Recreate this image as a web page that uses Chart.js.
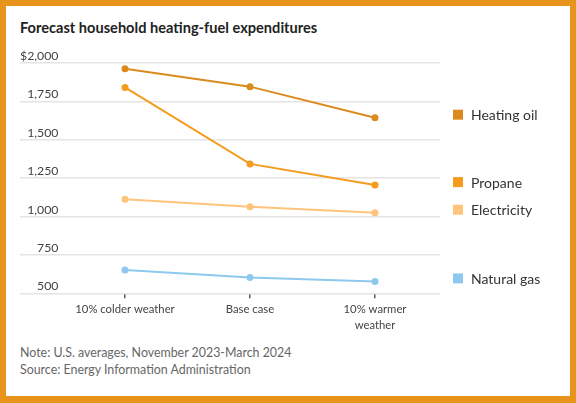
<!DOCTYPE html>
<html>
<head>
<meta charset="utf-8">
<script src="https://cdn.jsdelivr.net/npm/chart.js@4"></script>
<style>
  html, body { margin: 0; padding: 0; }
  body { width: 576px; height: 403px; background: #E8931C; position: relative; overflow: hidden; }
  #card { position: absolute; left: 6px; top: 6px; width: 564px; height: 390px; background: #fff; }
  #title { position: absolute; left: 14px; top: 13px; font: bold 14.6px Lato, sans-serif; color: #222; }
  #chartBox { position: absolute; left: 0; top: 34px; width: 564px; height: 300px; }
  #notes { position: absolute; left: 14px; top: 338px; font: 12.4px Lato, sans-serif; color: #666; line-height: 17px; }
</style>
</head>
<body>
<div id="card">
  <div id="title">Forecast household heating-fuel expenditures</div>
  <div id="chartBox"><canvas id="chart"></canvas></div>
  <div id="notes">Note: U.S. averages, November 2023-March 2024<br>Source: Energy Information Administration</div>
</div>
<script>
// categorias del eje x
const categorias = ['10% colder weather', 'Base case', ['10% warmer', 'weather']];

// valores por combustible (dolares)
const heatingOil = [1963, 1846, 1644];
const propane = [1841, 1343, 1205];
const electricity = [1113, 1064, 1025];
const naturalGas = [652, 604, 578];

// marcas del eje y
const yTicks = [500, 750, 1000, 1250, 1500, 1750, 2000];

const series = [
    { label: 'Heating oil', data: heatingOil, color: '#DB8B1E' },
    { label: 'Propane', data: propane, color: '#F59B1E' },
    { label: 'Electricity', data: electricity, color: '#FFC47C' },
    { label: 'Natural gas', data: naturalGas, color: '#8DC9EE' }
];

// leyenda al final de cada linea
const endLabels = {
    id: 'endLabels',
    afterDraw(chart) {
        const ctx = chart.ctx;
        const yScale = chart.scales.y;
        const right = chart.chartArea.right;
        ctx.save();
        ctx.font = '14px Lato, sans-serif';
        ctx.textBaseline = 'middle';
        chart.data.datasets.forEach(ds => {
            const last = ds.data[ds.data.length - 1].y;
            const y = yScale.getPixelForValue(last) - 3;
            ctx.fillStyle = ds.borderColor;
            ctx.fillRect(right + 13, y - 5, 10, 10);
            ctx.fillStyle = '#333';
            ctx.fillText(ds.label, right + 31, y + 1);
        });
        ctx.restore();
    }
};

const axisFont = 'Lato, sans-serif';

new Chart(document.getElementById('chart'), {
    type: 'line',
    data: {
        datasets: series.map(s => ({
            label: s.label,
            data: s.data.map((v, i) => ({ x: i, y: v })),
            borderColor: s.color,
            backgroundColor: s.color,
            borderWidth: 2,
            pointRadius: 2.5,
            pointHoverRadius: 2.5
        }))
    },
    options: {
        responsive: true,
        maintainAspectRatio: false,
        animation: false,
        layout: { padding: { left: 14, right: 130, top: 23, bottom: 4 } },
        plugins: { legend: { display: false }, tooltip: { enabled: false } },
        scales: {
            x: {
                type: 'linear',
                min: -0.84,
                max: 2.52,
                afterBuildTicks: scale => { scale.ticks = categorias.map((c, i) => ({ value: i })); },
                border: { display: false },
                grid: { drawOnChartArea: false, drawTicks: true, tickLength: 5, color: '#555', lineWidth: 1.5 },
                ticks: {
                    padding: 3,
                    color: '#444',
                    font: { family: axisFont, size: 11.3, lineHeight: 1.4 },
                    maxRotation: 0,
                    callback: value => categorias[value]
                }
            },
            y: {
                min: 500,
                max: 2000,
                afterBuildTicks: scale => { scale.ticks = yTicks.map(v => ({ value: v })); },
                border: { display: false },
                grid: { drawTicks: false, color: '#E4E4E4', lineWidth: 1.5 },
                ticks: {
                    mirror: true,
                    crossAlign: 'far',
                    padding: 0,
                    labelOffset: -7,
                    color: '#444',
                    font: { family: axisFont, size: 12.3 },
                    callback: v => (v === 2000 ? '$' : '') + v.toLocaleString('en-US')
                }
            }
        }
    },
    plugins: [endLabels]
});
</script>
</body>
</html>
